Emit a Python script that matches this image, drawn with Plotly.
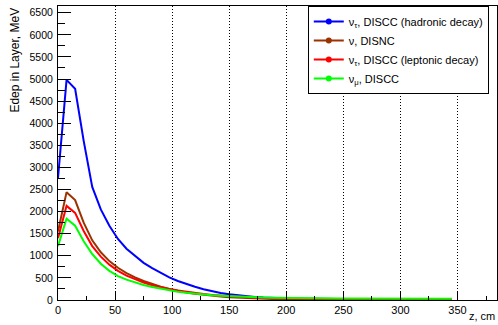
import plotly.graph_objects as go

z_cm = [0, 7.5, 15, 22.5, 30, 37.5, 45, 52.5, 60, 67.5,
        75, 82.5, 90, 97.5, 105, 112.5, 120, 127.5, 135, 142.5,
        150, 157.5, 165, 172.5, 180, 187.5, 195, 202.5, 210, 217.5,
        225, 232.5, 240, 247.5, 255, 262.5, 270, 277.5, 285, 292.5,
        300, 307.5, 315, 322.5, 330, 337.5, 345]

tau_hadronic = [2760, 4980, 4780, 3600, 2560, 2050, 1680, 1380, 1160, 990,
                840, 720, 610, 510, 430, 360, 300, 245, 200, 160,
                128, 102, 82, 66, 54, 45, 38, 33, 29, 26,
                23, 21, 19, 17, 16, 15, 14, 13, 12, 11,
                10.5, 10, 9.5, 9, 8.5, 8, 7.5]

nu_nc = [1550, 2440, 2260, 1750, 1350, 1080, 880, 730, 610, 510,
         430, 360, 300, 250, 205, 170, 140, 115, 95, 78,
         64, 53, 44, 36, 30, 25, 21, 18, 15, 13,
         11, 10, 9, 8, 7.5, 7, 6.5, 6, 5.5, 5,
         5, 4.5, 4.5, 4, 4, 3.5, 3.5]

tau_leptonic = [1400, 2130, 1970, 1560, 1220, 980, 800, 660, 550, 465,
                395, 335, 288, 248, 213, 183, 157, 134, 114, 97,
                83, 71, 61, 53, 46, 40, 35, 31, 28, 25,
                23, 21, 19, 18, 17, 16, 15, 14.5, 14, 13.5,
                13, 12.5, 12, 11.5, 11, 10.5, 10]

numu_cc = [1220, 1840, 1680, 1330, 1040, 820, 660, 540, 460, 395,
           340, 292, 252, 218, 189, 164, 143, 125, 110, 97,
           86, 77, 69, 62, 57, 52, 48, 45, 43, 41,
           39, 38, 37, 36, 35, 34.5, 34, 33.5, 33, 32.5,
           32, 31.5, 31, 30.5, 30, 30, 29.5]

series_names = ["ν<sub>τ</sub>, DISCC (hadronic decay)", "ν, DISNC",
                "ν<sub>τ</sub>, DISCC (leptonic decay)", "ν<sub>μ</sub>, DISCC"]
series_values = [tau_hadronic, nu_nc, tau_leptonic, numu_cc]
series_colors = ["#0000ff", "#9a3300", "#ff0000", "#00ff00"]

FONT = "Liberation Sans, Arial, Helvetica, sans-serif"

fig = go.Figure()
for name, vals, col in zip(series_names, series_values, series_colors):
    fig.add_trace(go.Scatter(x=z_cm, y=vals, mode="lines", name=name,
                             line=dict(color=col, width=2), showlegend=False))
for name, col in zip(series_names, series_colors):
    fig.add_trace(go.Scatter(x=[None], y=[None], mode="lines+markers", name=name,
                             line=dict(color=col, width=2),
                             marker=dict(color=col, size=6)))

fig.update_layout(
    width=498, height=325,
    margin=dict(l=58, r=1, t=6, b=25),
    paper_bgcolor="white", plot_bgcolor="white",
    font=dict(family=FONT, size=11, color="black"),
    showlegend=True,
    legend=dict(x=0.569, y=1, xanchor="left", yanchor="top",
                bgcolor="white", bordercolor="black", borderwidth=1,
                font=dict(family=FONT, size=11, color="black"),
                itemwidth=30, tracegroupgap=0),
    xaxis=dict(range=[0, 384.6], tickmode="linear", tick0=0, dtick=50,
               ticks="inside", ticklen=8, tickcolor="black", tickwidth=1,
               showline=True, linecolor="black", linewidth=1, mirror=True,
               showgrid=True, gridcolor="black", griddash="1px,2px", gridwidth=1,
               zeroline=False, tickfont=dict(size=11),
               minor=dict(dtick=25, ticks="inside", ticklen=4, tickcolor="black",
                          showgrid=False)),
    yaxis=dict(range=[0, 6652], tickmode="linear", tick0=0, dtick=500,
               ticks="inside", ticklen=13, tickcolor="black", tickwidth=1,
               showline=True, linecolor="black", linewidth=1, mirror=True,
               showgrid=False, zeroline=False, tickfont=dict(size=10.5),
               ticklabelstandoff=2,
               minor=dict(dtick=250, ticks="inside", ticklen=7, tickcolor="black",
                          showgrid=False)),
    annotations=[
        dict(text="Edep in Layer, MeV", xref="paper", yref="paper",
             x=-0.1, y=1.0, xanchor="center", yanchor="top", textangle=-90,
             showarrow=False, font=dict(size=12)),
        dict(text="z, cm", xref="paper", yref="paper",
             x=1.0, y=-0.083, xanchor="right", yanchor="bottom",
             showarrow=False, font=dict(size=11)),
    ],
)

fig.write_html("out.html")
